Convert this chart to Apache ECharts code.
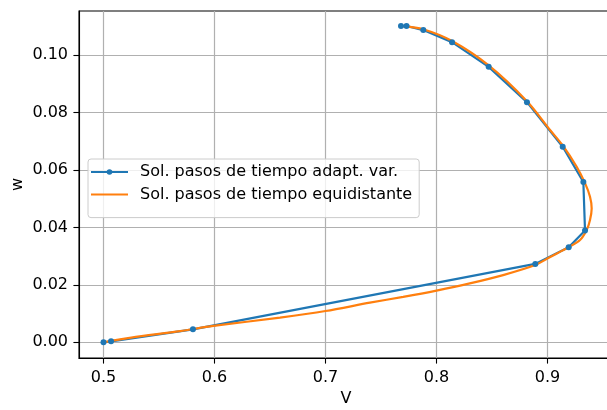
<!DOCTYPE html>
<html>
<head>
<meta charset="utf-8">
<script src="https://cdn.jsdelivr.net/npm/echarts@6/dist/echarts.min.js"></script>
<style>
html,body{margin:0;padding:0;background:#fff;}
#chart{width:607px;height:410px;}
</style>
</head>
<body>
<div id="chart"></div>
<script>
// Adaptive-step solution (blue, with markers)
var adaptV = [0.5, 0.5068, 0.5806, 0.889, 0.9191, 0.9338, 0.9323, 0.9137, 0.8815, 0.847, 0.814, 0.7881, 0.773, 0.768];
var adaptW = [0, 0.00035, 0.0045, 0.0273, 0.0331, 0.0389, 0.0558, 0.0681, 0.0836, 0.0959, 0.1045, 0.1087, 0.1101, 0.1101];
// Equidistant-step solution (orange)
var equiV = [0.5, 0.525, 0.569, 0.599, 0.659, 0.700, 0.740, 0.770, 0.800, 0.830, 0.860, 0.889, 0.902, 0.920, 0.9293, 0.9353, 0.9383, 0.9398, 0.9383, 0.9338, 0.9263, 0.9142, 0.9023, 0.8815, 0.847, 0.814, 0.788, 0.770];
var equiW = [0, 0.0016, 0.0039, 0.0057, 0.0086, 0.0109, 0.0138, 0.0158, 0.0180, 0.0205, 0.0234, 0.0269, 0.0296, 0.0333, 0.0356, 0.0391, 0.0426, 0.0466, 0.0507, 0.0554, 0.0611, 0.0683, 0.0739, 0.0839, 0.0964, 0.1049, 0.1090, 0.1101];
var xTicks = [0.5, 0.6, 0.7, 0.8, 0.9];
var yTicks = [0, 0.02, 0.04, 0.06, 0.08, 0.10];
var seriesNames = ['Sol. pasos de tiempo adapt. var.', 'Sol. pasos de tiempo equidistante'];

function zip(a, b) { return a.map(function (v, i) { return [v, b[i]]; }); }

var chart = echarts.init(document.getElementById('chart'), null, {renderer: 'canvas'});
var font = 'DejaVu Sans';
chart.setOption({
  animation: false,
  backgroundColor: '#ffffff',
  grid: {left: 79, top: 11, right: -6, bottom: 52, show: true, borderColor: '#000', borderWidth: 1.1,
         backgroundColor: 'transparent', containLabel: false, outerBoundsMode: 'none'},
  xAxis: {
    type: 'value', min: 0.47793, max: 0.95901,
    name: 'V', nameLocation: 'middle', nameGap: 33, nameMoveOverlap: false,
    nameTextStyle: {fontFamily: font, fontSize: 16, color: '#000'},
    axisLine: {show: true, onZero: false, lineStyle: {color: '#000', width: 1.1}},
    axisTick: {show: true, inside: false, length: 5.6, customValues: xTicks, lineStyle: {color: '#000', width: 1.1}},
    axisLabel: {customValues: xTicks, margin: 12, fontFamily: font, fontSize: 16, color: '#000', formatter: function (v) { return v.toFixed(1); }},
    splitLine: {show: true, lineStyle: {color: '#b0b0b0', width: 1.2}}
  },
  yAxis: {
    type: 'value', min: -0.005466, max: 0.11534,
    name: 'w', nameLocation: 'middle', nameGap: 53, nameRotate: 90, nameMoveOverlap: false,
    nameTextStyle: {fontFamily: font, fontSize: 16, color: '#000'},
    axisLine: {show: true, onZero: false, lineStyle: {color: '#000', width: 1.1}},
    axisTick: {show: true, inside: false, length: 5.6, customValues: yTicks, lineStyle: {color: '#000', width: 1.1}},
    axisLabel: {customValues: yTicks, margin: 11, fontFamily: font, fontSize: 16, color: '#000', formatter: function (v) { return v.toFixed(2); }},
    splitLine: {show: true, lineStyle: {color: '#b0b0b0', width: 1.2}}
  },
  legend: {
    orient: 'vertical', left: 88, top: 159,
    padding: [5, 7, 15, 2], itemGap: 6.6, itemWidth: 37, itemHeight: 7,
    backgroundColor: 'rgba(255,255,255,0.8)', borderColor: '#cccccc', borderWidth: 1, borderRadius: 3,
    textStyle: {fontFamily: font, fontSize: 16, color: '#000', padding: [0, 0, 0, 7], lineHeight: 16},
    data: [
      {name: seriesNames[0]},
      {name: seriesNames[1], itemStyle: {opacity: 0}}
    ]
  },
  series: [
    {
      name: seriesNames[0], type: 'line', data: zip(adaptV, adaptW),
      symbol: 'circle', symbolSize: 6, showSymbol: true,
      lineStyle: {color: '#1f77b4', width: 2.2},
      itemStyle: {color: '#1f77b4'},
      clip: false
    },
    {
      name: seriesNames[1], type: 'line', data: zip(equiV, equiW),
      symbol: 'none', smooth: 0.3,
      lineStyle: {color: '#ff7f0e', width: 2.2},
      itemStyle: {color: '#ff7f0e'},
      clip: false, z: 3
    }
  ]
});
</script>
</body>
</html>
